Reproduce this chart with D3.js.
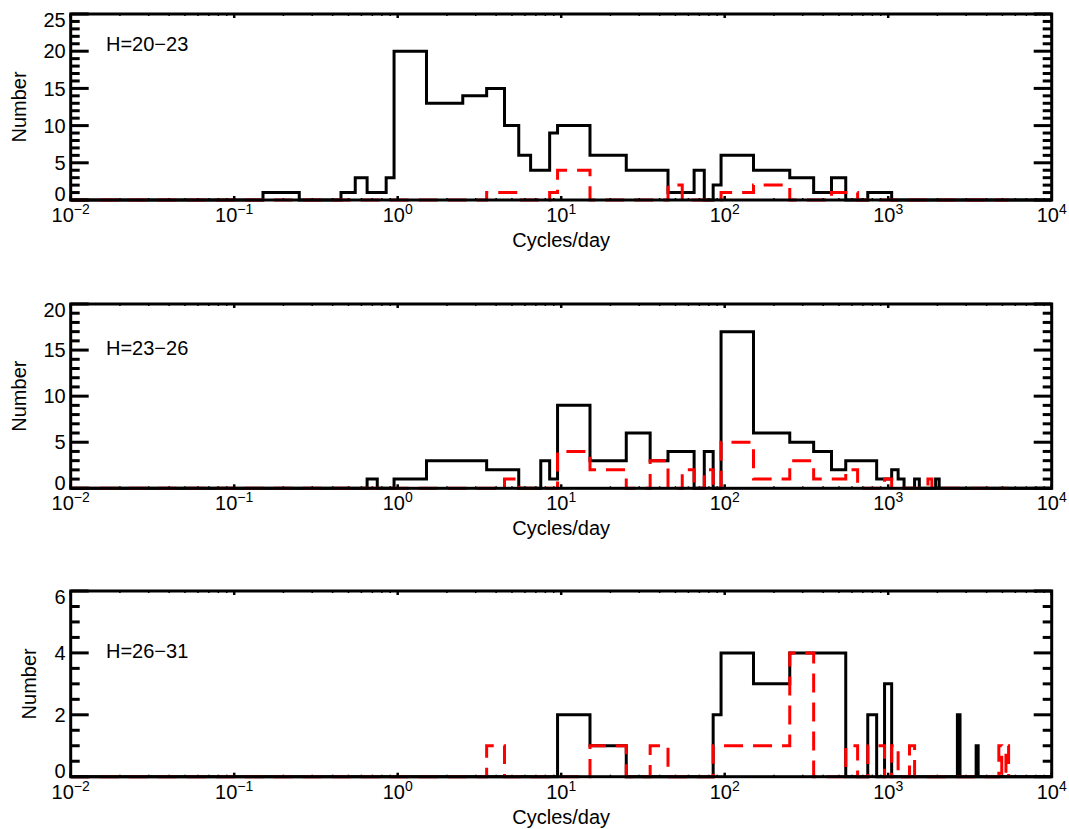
<!DOCTYPE html>
<html>
<head>
<meta charset="utf-8">
<script src="https://cdn.jsdelivr.net/npm/d3@7"></script>
<style>
  html, body { margin: 0; padding: 0; background: #fff; }
  svg text { font-family: "Liberation Sans", Arial, Helvetica, sans-serif; fill: #000; }
</style>
</head>
<body>
<svg id="chart" width="1069" height="829"></svg>
<script>
// Histogram bins: centre frequency (cycles/day) and number of objects per bin.
// Bin edges are the midpoints between neighbouring centres on the
// 1..9 x 10^n grid (100 c/d spacing above 1000 c/d).

const panelLabels = ["H=20\u221223", "H=23\u221226", "H=26\u221231"];
const yMaxima = [25, 20, 6];
const yMajorSteps = [5, 5, 2];
const yMinorSteps = [1, 1, 0.5];

// H = 20-23
const p1BlackFreq  = [0.2, 0.5, 0.6, 0.7, 0.8, 0.9, 1, 2, 3, 4, 5, 6, 7, 8, 9, 10, 20, 30, 40, 50, 60, 70, 90, 100, 200, 300, 400, 500, 800, 900, 1000];
const p1BlackCount = [1,   1,   3,   1,   1,   3,   20, 13, 14, 15, 10, 6, 4, 4, 9, 10, 6, 4, 4, 1, 1, 4, 2, 6, 4, 3, 1, 3, 1, 1, 1];
const p1RedFreq    = [4, 5, 9, 10, 50, 100, 200, 500, 600];
const p1RedCount   = [1, 1, 1, 4,  2,  1,   2,   1,   1];

// H = 23-26
const p2BlackFreq  = [0.7, 1, 2, 3, 4, 5, 8, 9, 10, 20, 30, 40, 50, 60, 80, 100, 200, 300, 400, 500, 600, 700, 800, 900, 1000, 1100, 1200, 1500, 2000];
const p2BlackCount = [1,   1, 3, 3, 2, 2, 3, 1, 9,  3,  6,  3,  4,  4,  4,  17,  6,   5,   4,   2,   3,   3,   3,   1,   1,    2,    1,    1,    1];
const p2RedFreq    = [5, 10, 20, 40, 60, 80, 100, 200, 300, 400, 500, 600, 1000, 1800];
const p2RedCount   = [1, 4,  2,  3,  2,  2,  5,   1,   3,   1,   1,   2,   1,    1];

// H = 26-31
const p3BlackFreq  = [10, 20, 90, 100, 200, 300, 400, 500, 800, 1000, 2700, 3500];
const p3BlackCount = [2,  1,  2,  4,   3,   4,   4,   4,   2,   3,    2,    1];
const p3RedFreq    = [4, 20, 40, 90, 100, 200, 300, 600, 800, 900, 1100, 1400, 4800, 4900, 5300, 5400];
const p3RedCount   = [1, 1,  1,  1,  1,   1,   4,   1,   1,   1,   1,    1,    1,    1,    1,    1];

const blackSeries = [[p1BlackFreq, p1BlackCount], [p2BlackFreq, p2BlackCount], [p3BlackFreq, p3BlackCount]];
const redSeries   = [[p1RedFreq, p1RedCount], [p2RedFreq, p2RedCount], [p3RedFreq, p3RedCount]];

const xDomain = [0.01, 10000];
const xTickExps = [-2, -1, 0, 1, 2, 3, 4];
const blackEnd = 10000, redEnd = 5450;

// ---- layout ----
const plotLeft = 70.7, plotRight = 1051.7;
const panelBoxes = [[14, 200], [304, 488.3], [591, 776.7]];
const labelOffsets = [37, 51, 67];
const numberTitleX = [26, 26, 36];
const fontSize = 20, supSize = 14;

const svg = d3.select("#chart");
const x = d3.scaleLog().domain(xDomain).range([plotLeft, plotRight]);

function gridStep(c) {
  return c < 1000 ? Math.pow(10, Math.floor(Math.log10(c) + 1e-9)) : 100;
}
function prevCentre(c) {
  const s = gridStep(c);
  const isDecade = Math.abs(c / s - 1) < 1e-9;
  return (isDecade && c <= 1000) ? c - s / 10 : c - s;
}
function nextCentre(c) { return c + gridStep(c); }

function stepPoints(freq, count, start, end) {
  const bins = freq.map((c, i) => ({ lo: (c + prevCentre(c)) / 2, hi: (c + nextCentre(c)) / 2, v: count[i] }));
  const pts = [[start, 0]];
  let prevHi = null;
  bins.forEach(b => {
    if (prevHi === null) {
      pts.push([b.lo, 0]);
    } else if (Math.abs(prevHi - b.lo) > 1e-9) {
      pts.push([prevHi, 0]);
      pts.push([b.lo, 0]);
    }
    pts.push([b.lo, b.v]);
    pts.push([b.hi, b.v]);
    prevHi = b.hi;
  });
  pts.push([prevHi, 0]);
  if (end > prevHi) pts.push([end, 0]);
  return pts;
}

panelBoxes.forEach(([top, bottom], p) => {
  const g = svg.append("g");
  const y = d3.scaleLinear().domain([0, yMaxima[p]]).range([bottom, top]);
  const line = d3.line().x(d => x(d[0])).y(d => y(d[1]));

  // histograms
  g.append("path")
    .attr("d", line(stepPoints(blackSeries[p][0], blackSeries[p][1], xDomain[0], blackEnd)))
    .attr("fill", "none").attr("stroke", "#000").attr("stroke-width", 3)
    .attr("stroke-linejoin", "miter").attr("stroke-linecap", "butt");
  g.append("path")
    .attr("d", line(stepPoints(redSeries[p][0], redSeries[p][1], xDomain[0], redEnd)))
    .attr("fill", "none").attr("stroke", "#ff0000").attr("stroke-width", 3)
    .attr("stroke-dasharray", "19,10").attr("stroke-linecap", "butt");

  // frame
  g.append("rect")
    .attr("x", plotLeft).attr("y", top)
    .attr("width", plotRight - plotLeft).attr("height", bottom - top)
    .attr("fill", "none").attr("stroke", "#000").attr("stroke-width", 3);

  // y ticks (left and right)
  const majorLen = 18, minorLen = 9;
  const yMinorTicks = d3.range(0, yMaxima[p] + 1e-9, yMinorSteps[p]);
  yMinorTicks.forEach(v => {
    const isMajor = Math.abs(v / yMajorSteps[p] - Math.round(v / yMajorSteps[p])) < 1e-9;
    const len = isMajor ? majorLen : minorLen;
    g.append("line").attr("x1", plotLeft).attr("x2", plotLeft + len)
      .attr("y1", y(v)).attr("y2", y(v)).attr("stroke", "#000").attr("stroke-width", 3);
    g.append("line").attr("x1", plotRight).attr("x2", plotRight - len)
      .attr("y1", y(v)).attr("y2", y(v)).attr("stroke", "#000").attr("stroke-width", 3);
  });
  const yMajorTicks = d3.range(0, yMaxima[p] + 1e-9, yMajorSteps[p]);
  yMajorTicks.forEach(v => {
    let ty = y(v);
    ty = Math.min(Math.max(ty, top + 6), bottom - 6);
    g.append("text").attr("x", plotLeft - 5).attr("y", ty)
      .attr("dy", "0.36em").attr("text-anchor", "end")
      .attr("font-size", fontSize).text(v);
  });

  // x ticks (top and bottom)
  xTickExps.forEach(e => {
    const xv = x(Math.pow(10, e));
    [[bottom, -4], [top, 4]].forEach(([yy, d]) => {
      g.append("line").attr("x1", xv).attr("x2", xv).attr("y1", yy).attr("y2", yy + d)
        .attr("stroke", "#000").attr("stroke-width", 2.5);
    });
    if (e < 4) {
      for (let k = 2; k <= 9; k++) {
        const xm = x(k * Math.pow(10, e));
        [[bottom, -2], [top, 2]].forEach(([yy, d]) => {
          g.append("line").attr("x1", xm).attr("x2", xm).attr("y1", yy).attr("y2", yy + d)
            .attr("stroke", "#000").attr("stroke-width", 1.5);
        });
      }
    }
    const t = g.append("text").attr("x", xv).attr("y", bottom + 22)
      .attr("text-anchor", "middle").attr("font-size", fontSize);
    t.append("tspan").text("10");
    t.append("tspan").attr("dy", -8).attr("font-size", supSize).text(e < 0 ? "\u2212" + (-e) : String(e));
  });

  // axis titles
  g.append("text").attr("x", (plotLeft + plotRight) / 2).attr("y", bottom + 47)
    .attr("text-anchor", "middle").attr("font-size", fontSize).text("Cycles/day");
  g.append("text")
    .attr("transform", `translate(${numberTitleX[p]},${(top + bottom) / 2}) rotate(-90)`)
    .attr("text-anchor", "middle").attr("font-size", fontSize).text("Number");

  // panel label
  g.append("text").attr("x", 106).attr("y", top + labelOffsets[p])
    .attr("font-size", fontSize).text(panelLabels[p]);
});
</script>
</body>
</html>
